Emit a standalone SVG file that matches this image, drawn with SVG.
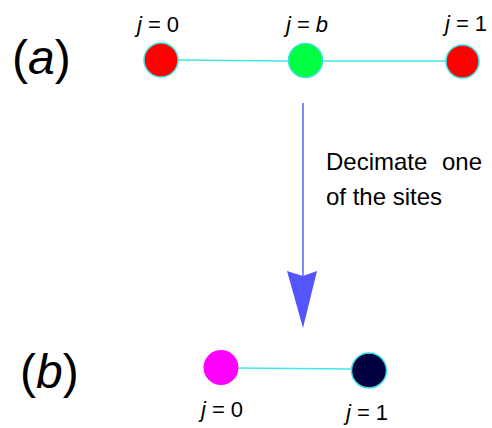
<svg xmlns="http://www.w3.org/2000/svg" width="492" height="428" viewBox="0 0 492 428">
<style>
text{font-family:"Liberation Sans",Arial,sans-serif;fill:#000}
.lbl{font-size:22px;text-anchor:middle}
.big{font-size:48px}
.note{font-size:24px}
.node{stroke:#40e0e0;stroke-width:1.5}
.edge{stroke:#40e8e8;stroke-width:1.5;fill:none}
</style>
<rect width="492" height="428" fill="#fff"/>
<g id="connectors">
<line class="edge" x1="178" y1="60" x2="288" y2="61"/>
<line class="edge" x1="322" y1="61" x2="446" y2="61"/>
<line class="edge" x1="238" y1="368" x2="352" y2="369"/>
<line x1="303" y1="103" x2="303" y2="278" stroke="#5f5fff" stroke-width="1.5"/>
<polygon points="287,271 303,276 317,271 303,328" fill="#5555ff"/>
</g>
<g id="label-a"><text class="big" x="12" y="74">(<tspan font-style="italic">a</tspan>)</text></g>
<g id="label-b"><text class="big" x="20" y="388">(<tspan font-style="italic">b</tspan>)</text></g>
<g id="a-j0">
<circle class="node" cx="161" cy="60" r="17" fill="#ff0000"/>
<text class="lbl" x="158" y="32"><tspan font-style="italic">j</tspan> = 0</text>
</g>
<g id="a-jb">
<circle class="node" cx="305.5" cy="60.5" r="17" fill="#00ff40"/>
<text class="lbl" x="307" y="32"><tspan font-style="italic">j</tspan> = <tspan font-style="italic">b</tspan></text>
</g>
<g id="a-j1">
<circle class="node" cx="462.5" cy="61.5" r="16.5" fill="#ff0000"/>
<text class="lbl" x="466" y="31"><tspan font-style="italic">j</tspan> = 1</text>
</g>
<g id="decimate-label">
<text class="note" x="326" y="170">Decimate<tspan x="442">one</tspan></text>
<text class="note" x="326" y="205">of the sites</text>
</g>
<g id="b-j0">
<circle cx="221" cy="367.5" r="17.5" fill="#ff00ff"/>
<text class="lbl" x="222" y="417"><tspan font-style="italic">j</tspan> = 0</text>
</g>
<g id="b-j1">
<circle class="node" cx="369" cy="370.5" r="17.5" fill="#000040"/>
<text class="lbl" x="367" y="420"><tspan font-style="italic">j</tspan> = 1</text>
</g>
</svg>
